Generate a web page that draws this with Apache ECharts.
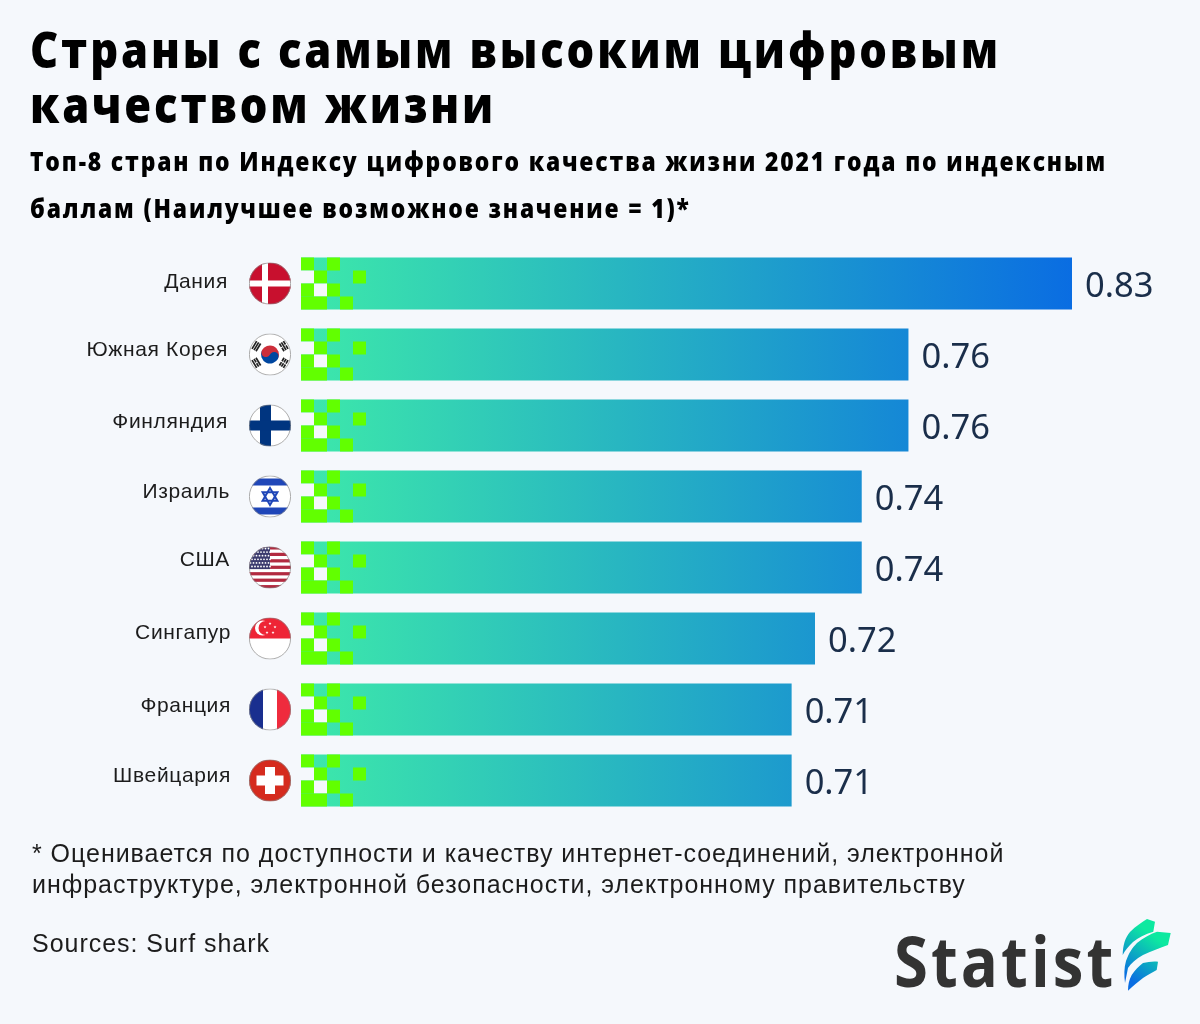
<!DOCTYPE html>
<html><head><meta charset="utf-8">
<style>html,body{margin:0;padding:0;background:#f5f8fc}#c{width:1200px;height:1024px}</style>
<script src="https://cdn.jsdelivr.net/npm/echarts@6/dist/echarts.min.js"></script>
</head><body><div id="c"></div>
<script>
const categories = ['Дания','Южная Корея','Финляндия','Израиль','США','Сингапур','Франция','Швейцария'];
const scores = [0.83,0.76,0.76,0.74,0.74,0.72,0.71,0.71];
const flagKeys = ['dk','kr','fi','il','us','sg','fr','ch'];
const titleText = 'Страны с самым высоким цифровым\nкачеством жизни';
const subtitleText = 'Топ-8 стран по Индексу цифрового качества жизни 2021 года по индексным\nбаллам (Наилучшее возможное значение = 1)*';
const noteText = '* Оценивается по доступности и качеству интернет-соединений, электронной\nинфраструктуре, электронной безопасности, электронному правительству';
const sourceText = 'Sources: Surf shark';
const logoText = 'Statist';

const GREEN='#62ff00', BG='#f5f8fc';
// decorative pixel pattern: [col,row,colour]
const pixels = [[0,0,GREEN],[2,0,GREEN],[0,1,BG],[1,1,GREEN],[4,1,GREEN],[0,2,GREEN],[1,2,BG],[2,2,GREEN],[0,3,GREEN],[1,3,GREEN],[3,3,GREEN]];

// letter spacing / horizontal squeeze per font size (canvas)
const textTweak = {'50px':[3.3,.87],'26px':[2.1,.88],'25px':[.97,1],'21px':[.65,1],'70px':[3.5,.88]};
const origFill = CanvasRenderingContext2D.prototype.fillText;
CanvasRenderingContext2D.prototype.fillText = function(t,x,y,m){
  const k = (this.font.match(/(\d+(?:\.\d+)?px)/)||[])[1];
  const tw = textTweak[k]||[0,1];
  this.letterSpacing = tw[0]+'px';
  if(tw[1]!==1){
    this.save();this.translate(x,0);this.scale(tw[1],1);
    origFill.call(this,t,0,y);
    this.restore();
    return;
  }
  return m===undefined ? origFill.call(this,t,x,y) : origFill.call(this,t,x,y,m);
};

function star(cx,cy,r){let p='';for(let i=0;i<10;i++){const a=-Math.PI/2+i*Math.PI/5,q=i%2?r*.4:r;p+=(i?'L':'M')+(cx+q*Math.cos(a)).toFixed(2)+' '+(cy+q*Math.sin(a)).toFixed(2);}return `<path d="${p}Z"/>`;}
function usFlag(){
  let s='<rect width="42" height="42" fill="#fff"/>';
  for(let i=0;i<7;i++) s+=`<rect y="${i*6.46-.2}" width="42" height="3.23" fill="#b22a40"/>`;
  s+='<rect width="21" height="22.6" fill="#3c3b6e"/><g fill="#fff">';
  for(let r=0;r<6;r++)for(let c=0;c<7;c++) s+=`<circle cx="${1.5+c*3+(r%2)*1.5}" cy="${2+r*3.6}" r=".9"/>`;
  return s+'</g>';
}
function krTrigram(cx,cy,a,pat){
  let s=`<g transform="translate(${cx} ${cy}) rotate(${a})" fill="#222">`;
  pat.forEach((b,i)=>{const x=-3.1+i*2.3;
    if(b) s+=`<rect x="${x}" y="-4.5" width="1.7" height="9"/>`;
    else s+=`<rect x="${x}" y="-4.5" width="1.7" height="4"/><rect x="${x}" y=".5" width="1.7" height="4"/>`;});
  return s+'</g>';
}
const flagArt = {
 dk:'<rect width="42" height="42" fill="#c8102e"/><rect x="13" width="6" height="42" fill="#fff"/><rect y="18" width="42" height="6" fill="#fff"/>',
 kr:'<rect width="42" height="42" fill="#fff"/><g transform="rotate(25 21 21)"><path d="M12 21a9 9 0 0 1 18 0z" fill="#cd2e3a"/><path d="M12 21a9 9 0 0 0 18 0z" fill="#0047a0"/><circle cx="16.5" cy="21" r="4.5" fill="#cd2e3a"/><circle cx="25.5" cy="21" r="4.5" fill="#0047a0"/></g>'
   +krTrigram(7.3,12.7,31,[1,1,1])+krTrigram(34.7,12.7,-31,[0,1,0])+krTrigram(7.3,29.3,-31,[1,0,1])+krTrigram(34.7,29.3,31,[0,0,0]),
 fi:'<rect width="42" height="42" fill="#fff"/><rect x="11" width="11" height="42" fill="#003580"/><rect y="16" width="42" height="10" fill="#003580"/>',
 il:'<rect width="42" height="42" fill="#fff"/><rect y="3" width="42" height="7" fill="#1f46b8"/><rect y="32" width="42" height="7" fill="#1f46b8"/><g fill="none" stroke="#1f46b8" stroke-width="2"><path d="M21 12.5l7.4 12.8H13.6z"/><path d="M21 29.5l-7.4-12.8h14.8z"/></g>',
 us:usFlag(),
 sg:'<rect width="42" height="42" fill="#fff"/><rect width="42" height="21" fill="#ee2536"/><circle cx="13.5" cy="10.5" r="7.5" fill="#fff"/><circle cx="16.5" cy="10.5" r="7" fill="#ee2536"/><g fill="#fff">'+star(21,6,1.6)+star(26,9.5,1.6)+star(24,15,1.6)+star(18,15,1.6)+star(16,9.5,1.6)+'</g>',
 fr:'<rect width="14" height="42" fill="#1a2f8f"/><rect x="14" width="14" height="42" fill="#fff"/><rect x="28" width="14" height="42" fill="#ef2b3d"/>',
 ch:'<rect width="42" height="42" fill="#d52b1e"/><rect x="16" y="7.5" width="10" height="27" fill="#fff"/><rect x="7.5" y="16" width="27" height="10" fill="#fff"/>'
};
const flagUrl = k => 'data:image/svg+xml,'+encodeURIComponent(
 `<svg xmlns="http://www.w3.org/2000/svg" width="126" height="126" viewBox="0 0 42 42"><defs><clipPath id="c"><circle cx="21" cy="21" r="21"/></clipPath></defs><g clip-path="url(#c)">${flagArt[k]}</g><circle cx="21" cy="21" r="20.6" fill="none" stroke="#888" stroke-width=".7"/></svg>`);
// logo mark, 60x80 box whose origin is (1120,915)
const logoMark = 'data:image/svg+xml,'+encodeURIComponent(
 `<svg xmlns="http://www.w3.org/2000/svg" width="180" height="240" viewBox="1120 915 60 80"><defs><linearGradient id="g" gradientUnits="userSpaceOnUse" x1="1125" y1="985" x2="1170" y2="925"><stop offset="0.1" stop-color="#0a6de2"/><stop offset="0.75" stop-color="#0de9a0"/></linearGradient></defs><g fill="url(#g)">
 <path d="M1122.7 955C1123 945 1125 938 1130 932C1136 926 1142 922 1147 919L1155 921.7L1153.3 931.7C1145 934 1138 938 1133 942C1129 946 1125 950 1122.7 955Z"/>
 <path d="M1125 983C1124 975 1124 968 1126 961C1129 953 1132 948 1137 943C1143 938 1150 934 1157 931.7L1170.7 933L1168 945C1160 948 1151 951 1143 955C1136 959 1131 963 1128 968C1127 973 1126 978 1125 983Z"/>
 <path d="M1128 990.7C1128 985 1129 980 1131.7 975C1135 970 1139 966 1143 963C1148 962 1153 961 1158 961.7L1156.7 970C1152 973 1147 975 1143 978C1138 982 1133 986 1128 990.7Z"/></g></svg>`);

const AXMIN=0.5, AXMAX=0.83, CELL=13;
const labelUp=[1,4,3,4,7,5,3,4], labelIn=[3,3,3,1,1,0,0,0];

const chart = echarts.init(document.getElementById('c'),null,{renderer:'canvas',width:1200,height:1024});
chart.setOption({
 animation:false,
 backgroundColor:BG,
 title:[
  {text:titleText,left:30,top:26,padding:0,textStyle:{fontFamily:'Open Sans',fontWeight:800,fontSize:50,lineHeight:55,color:'#000'}},
  {text:subtitleText,left:30,top:140,padding:0,textStyle:{fontFamily:'Open Sans',fontWeight:800,fontSize:26,lineHeight:47,color:'#000'}},
  {text:noteText,left:32,top:840,padding:0,textStyle:{fontFamily:'Liberation Sans',fontWeight:'normal',fontSize:25,lineHeight:31,color:'#1c1c1c'}},
  {text:sourceText,left:32,top:930,padding:0,textStyle:{fontFamily:'Liberation Sans',fontWeight:'normal',fontSize:25,lineHeight:31,color:'#1c1c1c'}}
 ],
 grid:{left:301,top:248,width:771,height:568,containLabel:false},
 xAxis:{type:'value',min:AXMIN,max:AXMAX,show:false},
 yAxis:{type:'category',inverse:true,
   data:categories.map((c,i)=>({value:c,textStyle:{padding:[0,labelIn[i],0,0],verticalAlign:'bottom',lineHeight:labelUp[i]*2}})),
   axisLine:{show:false},axisTick:{show:false},
   axisLabel:{margin:70,fontFamily:'Liberation Sans',fontSize:21,color:'#1c1c1c'}},
 series:[
  {type:'bar',data:scores,barWidth:52,
   itemStyle:{color:{type:'linear',global:true,x:301,y:0,x2:1072,y2:0,colorStops:[{offset:0,color:'#3de9aa'},{offset:1,color:'#0a6de2'}]}},
   label:{show:true,position:'right',distance:13,offset:[0,4],formatter:p=>p.value.toFixed(2),fontFamily:'Noto Sans',fontSize:34.5,color:'#1a2e4a'}},
  {type:'custom',data:scores,silent:true,z:3,clip:false,
   renderItem:(params,api)=>{
     const o=api.coord([AXMIN,params.dataIndex]);
     return {type:'group',children:pixels.map(p=>({type:'rect',shape:{x:o[0]+p[0]*CELL,y:o[1]-26+p[1]*CELL,width:CELL,height:CELL},style:{fill:p[2]}}))};
   }},
  {type:'custom',data:flagKeys.map((k,i)=>scores[i]),silent:true,z:3,clip:false,
   renderItem:(params,api)=>{
     const o=api.coord([AXMIN,params.dataIndex]);
     return {type:'image',style:{image:flagUrl(flagKeys[params.dataIndex]),x:o[0]-52,y:o[1]-21,width:42,height:42}};
   }}
 ],
 graphic:[
  {type:'text',left:894,top:932,style:{text:logoText,font:'bold 70px "Open Sans"',fill:'#333333'}},
  {type:'image',left:1120,top:915,style:{image:logoMark,width:60,height:80}}
 ]
});
</script></body></html>
